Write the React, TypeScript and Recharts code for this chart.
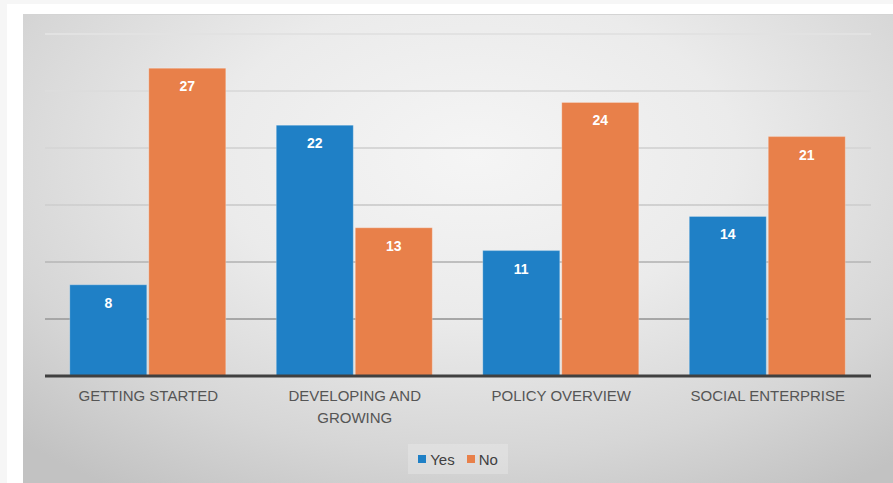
import React from 'react';
import { BarChart, Bar, XAxis, YAxis, CartesianGrid, Legend, LabelList, Text } from 'recharts';

const categories = ['GETTING STARTED', 'DEVELOPING AND GROWING', 'POLICY OVERVIEW', 'SOCIAL ENTERPRISE'];
const yesValues = [8, 22, 11, 14];
const noValues = [27, 13, 24, 21];
const yTicks = [0, 5, 10, 15, 20, 25, 30];
const seriesOrder = ['Yes', 'No'];

const data = categories.map((name, i) => ({ name, yes: yesValues[i], no: noValues[i] }));

const BLUE = '#1f80c6';
const ORANGE = '#e8804a';
const FONT = '"Liberation Sans", Arial, Helvetica, sans-serif';

function CategoryTick({ x, y, payload }: any) {
  return (
    <Text
      x={x}
      y={y}
      width={190}
      textAnchor="middle"
      verticalAnchor="start"
      fill="#555555"
      fontSize={15}
      fontFamily={FONT}
      lineHeight={22}
    >
      {payload.value}
    </Text>
  );
}

function LegendBox({ payload }: any) {
  const items = [...(payload || [])].sort(
    (a: any, b: any) => seriesOrder.indexOf(a.value) - seriesOrder.indexOf(b.value)
  );
  return (
    <div style={{ display: 'flex', justifyContent: 'center' }}>
      <div
        style={{
          display: 'flex',
          alignItems: 'center',
          gap: 12,
          padding: '0 10px',
          height: 30,
          background: 'rgba(255,255,255,0.22)',
          fontFamily: FONT,
          fontSize: 15,
          color: '#404040',
        }}
      >
        {items.map((p: any) => (
          <span key={p.value} style={{ display: 'flex', alignItems: 'center', gap: 4 }}>
            <span style={{ width: 8, height: 8, background: p.color, display: 'inline-block' }} />
            {p.value}
          </span>
        ))}
      </div>
    </div>
  );
}

export default function App() {
  return (
    <div
      style={{
        position: 'absolute',
        left: 0,
        top: 0,
        width: 893,
        height: 483,
        overflow: 'hidden',
        background: '#ffffff',
        borderTop: '4px solid #f6f6f6',
        borderLeft: '7px solid #f6f6f6',
        boxSizing: 'border-box',
      }}
    >
      <div
        style={{
          position: 'absolute',
          left: 16,
          top: 10,
          width: 870,
          height: 469,
          background: 'radial-gradient(ellipse 75% 85% at 52% 30%, #f5f5f5 0%, #ebebeb 40%, #d6d6d6 75%, #c2c2c2 100%)',
          borderTop: '1px solid #d4d4d4',
        }}
      >
        <BarChart
          width={870}
          height={469}
          data={data}
          margin={{ top: 19, right: 22, left: 22, bottom: 10 }}
          barCategoryGap="12%"
          barGap={2}
        >
          <defs>
            <linearGradient id="gridGrad" gradientUnits="userSpaceOnUse" x1="0" y1="19" x2="0" y2="361">
              <stop offset="0%" stopColor="#e2e2e2" />
              <stop offset="55%" stopColor="#cfcfcf" />
              <stop offset="100%" stopColor="#8f8f8f" />
            </linearGradient>
          </defs>
          <CartesianGrid vertical={false} stroke="url(#gridGrad)" strokeWidth={2} />
          <YAxis hide domain={[0, 30]} ticks={yTicks} />
          <XAxis
            dataKey="name"
            axisLine={{ stroke: '#404040', strokeWidth: 3 }}
            tickLine={false}
            tickMargin={8}
            height={68}
            interval={0}
            tick={<CategoryTick />}
          />
          <Legend verticalAlign="bottom" content={<LegendBox />} />
          <Bar dataKey="yes" name="Yes" fill={BLUE} stroke="rgba(255,255,255,0.25)" isAnimationActive={false}>
            <LabelList dataKey="yes" position="insideTop" offset={13} fill="#ffffff" fontSize={14} fontWeight="bold" fontFamily={FONT} />
          </Bar>
          <Bar dataKey="no" name="No" fill={ORANGE} stroke="rgba(255,255,255,0.25)" isAnimationActive={false}>
            <LabelList dataKey="no" position="insideTop" offset={13} fill="#ffffff" fontSize={14} fontWeight="bold" fontFamily={FONT} />
          </Bar>
        </BarChart>
      </div>
    </div>
  );
}
